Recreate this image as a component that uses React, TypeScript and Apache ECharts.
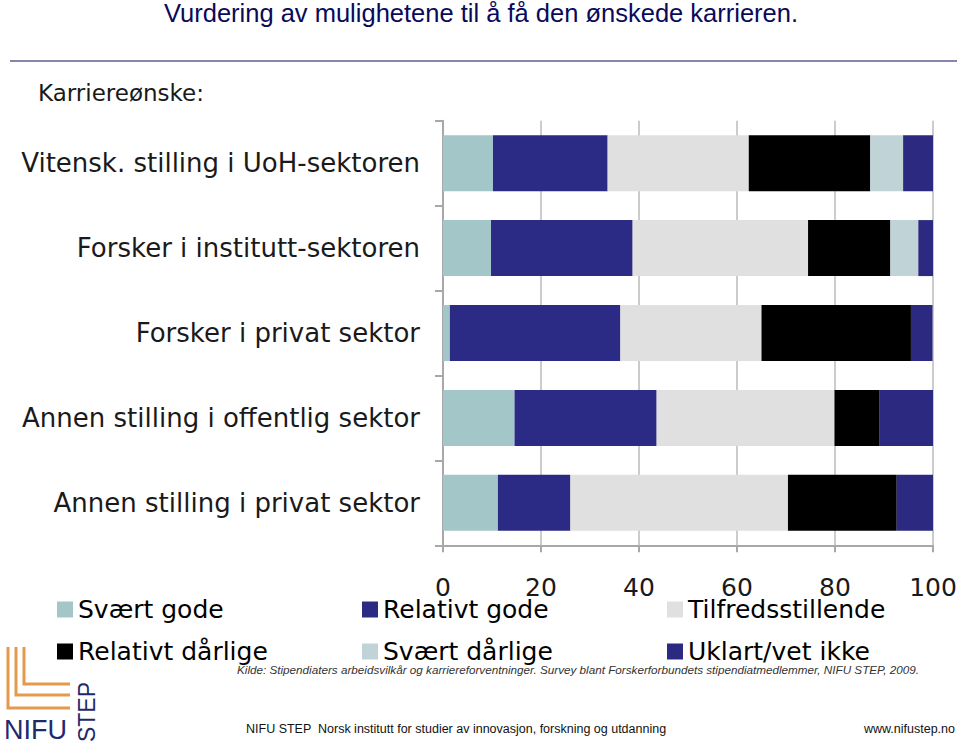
import React, { useEffect, useRef } from "react";
import * as echarts from "echarts";

const categories = [
  "Vitensk. stilling i UoH-sektoren",
  "Forsker i institutt-sektoren",
  "Forsker i privat sektor",
  "Annen stilling i offentlig sektor",
  "Annen stilling i privat sektor",
];

const seriesNames = [
  "Svært gode",
  "Relativt gode",
  "Tilfredsstillende",
  "Relativt dårlige",
  "Svært dårlige",
  "Uklart/vet ikke",
];

const svaertGode = [10.2, 9.8, 1.4, 14.6, 11.2];
const relativtGode = [23.4, 28.9, 34.8, 29.0, 14.8];
const tilfredsstillende = [28.8, 35.8, 28.8, 36.3, 44.4];
const relativtDarlige = [24.8, 16.8, 30.5, 9.1, 22.2];
const svaertDarlige = [6.7, 5.7, 0, 0, 0];
const uklart = [6.1, 3.0, 4.4, 11.0, 7.4];

const xTicks = { min: 0, max: 100, interval: 20 };

const colors = ["#a3c6c8", "#2b2a85", "#e0e0e0", "#000000", "#c0d3d7", "#2b2a80"];

const labelFont = "'DejaVu Sans', Verdana, sans-serif";
const sansFont = "'Liberation Sans', Arial, sans-serif";

export default function App() {
  const ref = useRef<HTMLDivElement>(null);

  useEffect(() => {
    if (!ref.current) return;
    const chart = echarts.init(ref.current, null, { renderer: "svg" });
    const allData = [svaertGode, relativtGode, tilfredsstillende, relativtDarlige, svaertDarlige, uklart];

    const legendCommon = {
      orient: "vertical" as const,
      top: 597,
      padding: 0,
      itemWidth: 16,
      itemHeight: 16,
      itemGap: 17,
      icon: "rect",
      selectedMode: false,
      textStyle: { fontSize: 25, fontFamily: labelFont, color: "#000" },
    };

    chart.setOption({
      animation: false,
      backgroundColor: "#ffffff",
      color: colors,
      grid: { left: 443, right: 27, top: 120.7, bottom: 200.7, containLabel: false },
      legend: [
        { ...legendCommon, left: 57, data: [seriesNames[0], seriesNames[3]] },
        { ...legendCommon, left: 362, data: [seriesNames[1], seriesNames[4]] },
        { ...legendCommon, left: 667, data: [seriesNames[2], seriesNames[5]] },
      ],
      xAxis: {
        type: "value",
        min: xTicks.min,
        max: xTicks.max,
        interval: xTicks.interval,
        axisLine: { show: true, lineStyle: { color: "#a8a8a8", width: 2 } },
        axisTick: { show: true, length: 7, lineStyle: { color: "#a8a8a8", width: 2 } },
        splitLine: { show: true, lineStyle: { color: "#cccccc", width: 2 } },
        axisLabel: { fontSize: 25, fontFamily: labelFont, color: "#1a1a1a", margin: 30 },
      },
      yAxis: {
        type: "category",
        data: categories,
        inverse: true,
        axisLine: { show: true, lineStyle: { color: "#a8a8a8", width: 2 } },
        axisTick: { show: true, length: 8, lineStyle: { color: "#a8a8a8", width: 2 } },
        axisLabel: { fontSize: 26, fontFamily: labelFont, color: "#1a1a1a", margin: 23 },
      },
      series: seriesNames.map((name, i) => ({
        name,
        type: "bar",
        stack: "total",
        barWidth: 56,
        data: allData[i],
        itemStyle: { color: colors[i] },
      })),
      graphic: [
        {
          type: "text",
          x: 481,
          y: 0,
          style: {
            text: "Vurdering av mulighetene til å få den ønskede karrieren.",
            fontSize: 25.5,
            fontFamily: sansFont,
            fill: "#0a0a5a",
            textAlign: "center",
            textVerticalAlign: "top",
          },
        },
        {
          type: "line",
          shape: { x1: 10, y1: 61, x2: 957, y2: 61 },
          style: { stroke: "#8585ad", lineWidth: 2 },
        },
        {
          type: "text",
          x: 38,
          y: 93,
          style: {
            text: "Karriereønske:",
            fontSize: 23,
            fontFamily: labelFont,
            fill: "#1a1a1a",
            textAlign: "left",
            textVerticalAlign: "middle",
          },
        },
        {
          type: "text",
          x: 237,
          y: 669,
          style: {
            text: "Kilde: Stipendiaters arbeidsvilkår og karriereforventninger. Survey blant Forskerforbundets stipendiatmedlemmer, NIFU STEP, 2009.",
            fontSize: 11.7,
            fontStyle: "italic",
            fontFamily: sansFont,
            fill: "#333333",
            textAlign: "left",
            textVerticalAlign: "middle",
          },
        },
        {
          type: "text",
          x: 246,
          y: 729,
          style: {
            text: "NIFU STEP  Norsk institutt for studier av innovasjon, forskning og utdanning",
            fontSize: 12.5,
            fontFamily: sansFont,
            fill: "#111111",
            textAlign: "left",
            textVerticalAlign: "middle",
          },
        },
        {
          type: "text",
          x: 955,
          y: 729,
          style: {
            text: "www.nifustep.no",
            fontSize: 12.5,
            fontFamily: sansFont,
            fill: "#111111",
            textAlign: "right",
            textVerticalAlign: "middle",
          },
        },
        // logo
        {
          type: "polyline",
          shape: { points: [[8, 647], [8, 708], [70, 708]] },
          style: { stroke: "#e39a4c", lineWidth: 3, fill: null },
        },
        {
          type: "polyline",
          shape: { points: [[16, 647], [16, 695], [70, 695]] },
          style: { stroke: "#e39a4c", lineWidth: 3, fill: null },
        },
        {
          type: "polyline",
          shape: { points: [[24, 647], [24, 684], [70, 684]] },
          style: { stroke: "#e39a4c", lineWidth: 3, fill: null },
        },
        {
          type: "text",
          x: 4,
          y: 730,
          style: {
            text: "NIFU",
            fontSize: 27,
            fontFamily: sansFont,
            fill: "#1f2a6b",
            textAlign: "left",
            textVerticalAlign: "middle",
          },
        },
        {
          type: "text",
          x: 87,
          y: 712,
          rotation: Math.PI / 2,
          style: {
            text: "STEP",
            fontSize: 23,
            fontFamily: sansFont,
            fill: "#1f2a6b",
            textAlign: "center",
            textVerticalAlign: "middle",
          },
        },
      ],
    });
    return () => chart.dispose();
  }, []);

  return (
    <div
      ref={ref}
      style={{ position: "fixed", left: 0, top: 0, width: 960, height: 746 }}
    />
  );
}
